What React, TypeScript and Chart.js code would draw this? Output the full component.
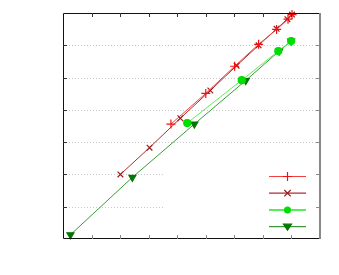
import React, { useEffect, useRef } from "react";
import { Chart, registerables } from "chart.js";

Chart.register(...registerables);

const xTicks = [0, 1, 2, 3, 4, 5, 6, 7, 8, 9];
const yTicks = [0, 1, 2, 3, 4, 5, 6, 7];

const s1X = [3.78, 5.0, 6.01, 6.85, 7.48, 7.88, 8.02];
const s1Y = [3.56, 4.51, 5.35, 6.03, 6.49, 6.81, 6.95];

const s2X = [2.01, 3.03, 4.11, 5.16, 6.08, 6.85, 7.48, 7.86, 8.02];
const s2Y = [2.0, 2.83, 3.74, 4.6, 5.37, 6.0, 6.51, 6.81, 6.95];

const s3X = [4.35, 6.26, 7.54, 7.99];
const s3Y = [3.59, 4.92, 5.82, 6.13];

const s4X = [0.26, 2.43, 4.6, 6.4, 7.57, 7.99];
const s4Y = [0.13, 1.91, 3.56, 4.91, 5.82, 6.13];

const series = [
  { xs: s1X, ys: s1Y, line: "#f04040", mark: "#ee1111", style: "cross", r: 4.5, rot: 0 },
  { xs: s2X, ys: s2Y, line: "#a83030", mark: "#9a1a1a", style: "crossRot", r: 4, rot: 0 },
  { xs: s3X, ys: s3Y, line: "#55ee55", mark: "#00dd00", style: "circle", r: 3.5, rot: 0 },
  { xs: s4X, ys: s4Y, line: "#3a9a3a", mark: "#007700", style: "triangle", r: 4, rot: 180 },
];

function marker(ctx: CanvasRenderingContext2D, style: string, r: number, x: number, y: number) {
  ctx.beginPath();
  if (style === "cross") {
    ctx.moveTo(x - r, y); ctx.lineTo(x + r, y);
    ctx.moveTo(x, y - r); ctx.lineTo(x, y + r);
    ctx.stroke();
  } else if (style === "crossRot") {
    const d = r * 0.8;
    ctx.moveTo(x - d, y - d); ctx.lineTo(x + d, y + d);
    ctx.moveTo(x - d, y + d); ctx.lineTo(x + d, y - d);
    ctx.stroke();
  } else if (style === "circle") {
    ctx.arc(x, y, r, 0, Math.PI * 2);
    ctx.fill();
  } else {
    ctx.moveTo(x - r, y - r * 0.6);
    ctx.lineTo(x + r, y - r * 0.6);
    ctx.lineTo(x, y + r * 0.9);
    ctx.closePath();
    ctx.fill();
    ctx.stroke();
  }
}

const frame = {
  id: "frame",
  beforeDatasetsDraw(chart: any) {
    const { ctx, chartArea: a, scales } = chart;
    const xs = scales.x, ys = scales.y;
    const legLeft = xs.getPixelForValue(3.57);
    const legTop = ys.getPixelForValue(2.5);
    ctx.save();
    ctx.strokeStyle = "#c8c8c8";
    ctx.lineWidth = 1;
    ctx.setLineDash([1, 2]);
    for (const v of yTicks) {
      if (v === 0 || v === 7) continue;
      const y = Math.round(ys.getPixelForValue(v)) + 0.5;
      const end = y > legTop ? legLeft : a.right;
      ctx.beginPath();
      ctx.moveTo(a.left, y);
      ctx.lineTo(end, y);
      ctx.stroke();
    }
    ctx.restore();
  },
  afterDraw(chart: any) {
    const { ctx, chartArea: a, scales } = chart;
    const xs = scales.x, ys = scales.y;
    ctx.save();
    ctx.setLineDash([]);
    ctx.lineWidth = 1;
    ctx.strokeStyle = "#111";
    const L = a.left + 0.5, R = a.right - 0.5, T = a.top + 0.5, B = a.bottom - 0.5;
    ctx.beginPath();
    ctx.moveTo(L, T); ctx.lineTo(R, T);
    ctx.moveTo(L, T); ctx.lineTo(L, B);
    ctx.moveTo(L, B); ctx.lineTo(R, B);
    ctx.stroke();
    ctx.strokeStyle = "#888";
    ctx.lineWidth = 2;
    ctx.beginPath();
    ctx.moveTo(a.right, a.top); ctx.lineTo(a.right, a.bottom);
    ctx.stroke();
    ctx.lineWidth = 1;
    const tl = 4;
    for (const v of xTicks) {
      if (v === 0 || v === 9) continue;
      const x = Math.round(xs.getPixelForValue(v)) + 0.5;
      ctx.strokeStyle = "#333";
      ctx.beginPath();
      ctx.moveTo(x, a.top); ctx.lineTo(x, a.top + tl);
      ctx.stroke();
      ctx.strokeStyle = "#888";
      ctx.beginPath();
      ctx.moveTo(x, a.bottom); ctx.lineTo(x, a.bottom - tl);
      ctx.stroke();
    }
    for (const v of yTicks) {
      if (v === 0 || v === 7) continue;
      const y = Math.round(ys.getPixelForValue(v)) + 0.5;
      ctx.strokeStyle = "#333";
      ctx.beginPath();
      ctx.moveTo(a.left, y); ctx.lineTo(a.left + tl, y);
      ctx.stroke();
      ctx.strokeStyle = "#888";
      ctx.beginPath();
      ctx.moveTo(a.right, y); ctx.lineTo(a.right - tl, y);
      ctx.stroke();
    }
    const x0 = a.right - 51, x1 = a.right - 14, xm = (x0 + x1) / 2;
    series.forEach((s, i) => {
      const y = a.bottom - 62.5 + i * 16.7;
      ctx.strokeStyle = s.line;
      ctx.lineWidth = i === 2 ? 2 : 1.2;
      ctx.beginPath();
      ctx.moveTo(x0, y); ctx.lineTo(x1, y);
      ctx.stroke();
      ctx.fillStyle = s.mark;
      ctx.strokeStyle = s.mark;
      ctx.lineWidth = 1.2;
      marker(ctx, s.style, s.r, xm, y);
    });
    ctx.restore();
  },
};

export default function App() {
  const ref = useRef<HTMLCanvasElement | null>(null);
  useEffect(() => {
    if (!ref.current) return;
    const chart = new Chart(ref.current, {
      type: "line",
      data: {
        datasets: series.map((s) => ({
          data: s.xs.map((x, i) => ({ x, y: s.ys[i] })),
          borderColor: s.line,
          backgroundColor: s.mark,
          borderWidth: 1,
          pointStyle: s.style as any,
          pointRadius: s.r,
          pointRotation: s.rot,
          pointBorderColor: s.mark,
          pointBackgroundColor: s.mark,
          pointBorderWidth: 1.2,
          fill: false,
          tension: 0,
          clip: false as any,
        })),
      },
      options: {
        animation: false,
        responsive: false,
        maintainAspectRatio: false,
        layout: { padding: { left: 63, right: 19, top: 13, bottom: 36 } },
        scales: {
          x: { type: "linear", min: 0, max: 9, display: false },
          y: { type: "linear", min: 0, max: 7, display: false },
        },
        plugins: { legend: { display: false }, tooltip: { enabled: false } },
      },
      plugins: [frame],
    });
    return () => chart.destroy();
  }, []);
  return (
    <div style={{ position: "fixed", left: 0, top: 0, width: 339, height: 275, background: "#fff" }}>
      <canvas ref={ref} width={339} height={275} style={{ width: 339, height: 275, display: "block" }} />
    </div>
  );
}
